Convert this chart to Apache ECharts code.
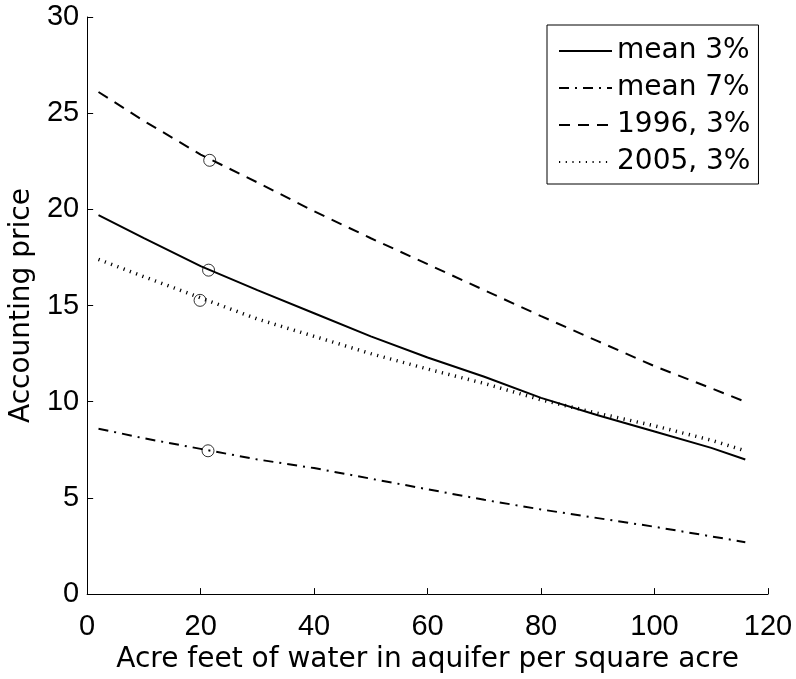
<!DOCTYPE html>
<html>
<head>
<meta charset="utf-8">
<script src="https://cdn.jsdelivr.net/npm/echarts@6/dist/echarts.min.js"></script>
<style>
html,body{margin:0;padding:0;background:#fff;}
#chart{width:796px;height:679px;}
</style>
</head>
<body>
<div id="chart"></div>
<script>
// ---- data ----
const xValues   = [2, 10, 20, 30, 40, 50, 60, 70, 80, 90, 100, 110, 116];
const mean3     = [19.7, 18.5, 17.05, 15.8, 14.6, 13.4, 12.3, 11.3, 10.2, 9.3, 8.45, 7.6, 7.0];
const mean7     = [8.6, 8.1, 7.55, 7.0, 6.55, 6.0, 5.45, 4.9, 4.4, 3.95, 3.5, 3.0, 2.7];
const y1996     = [26.1, 24.6, 22.85, 21.4, 19.9, 18.5, 17.15, 15.8, 14.45, 13.15, 11.85, 10.7, 10.0];
const y2005     = [17.4, 16.5, 15.4, 14.3, 13.4, 12.5, 11.7, 10.95, 10.1, 9.4, 8.75, 8.0, 7.45];
const markerX   = [21.6, 21.4, 19.9, 21.3];
const markerY   = [22.55, 16.84, 15.27, 7.45];
const seriesNames = ['mean 3%', 'mean 7%', '1996, 3%', '2005, 3%'];
const xTicks = {min: 0, max: 120, interval: 20};
const yTicks = {min: 0, max: 30, interval: 5};
const xTitle = 'Acre feet of water in aquifer per square acre';
const yTitle = 'Accounting price';

const FONT = 'DejaVu Sans';
const TICKFONT = 'Liberation Sans';
const pair = (xs, ys) => xs.map((x, i) => [x, ys[i]]);

function lineSeries(name, ys, type, width) {
  return {
    name: name,
    type: 'line',
    data: pair(xValues, ys),
    symbol: 'none',
    showSymbol: false,
    smooth: false,
    lineStyle: {color: '#000', width: width, type: type, cap: 'butt'},
    itemStyle: {color: '#000'},
    z: 2
  };
}

const chart = echarts.init(document.getElementById('chart'), null, {renderer: 'canvas'});
chart.setOption({
  animation: false,
  backgroundColor: '#fff',
  grid: {left: 84, right: 28, top: 17, bottom: 75, containLabel: false},
  xAxis: {
    type: 'value', min: xTicks.min, max: xTicks.max, interval: xTicks.interval,
    name: xTitle, nameLocation: 'middle', nameGap: 46,
    nameTextStyle: {fontFamily: FONT, fontSize: 28, color: '#000'},
    axisLine: {show: true, onZero: false, lineStyle: {color: '#000', width: 1}},
    axisTick: {show: true, inside: true, length: 6, lineStyle: {color: '#000'}},
    axisLabel: {fontFamily: TICKFONT, fontSize: 29, color: '#000', margin: 18},
    splitLine: {show: false}
  },
  yAxis: {
    type: 'value', min: yTicks.min, max: yTicks.max, interval: yTicks.interval,
    name: yTitle, nameLocation: 'middle', nameGap: 50,
    nameTextStyle: {fontFamily: FONT, fontSize: 28, color: '#000'},
    axisLine: {show: true, onZero: false, lineStyle: {color: '#000', width: 1}},
    axisTick: {show: true, inside: true, length: 6, lineStyle: {color: '#000'}},
    axisLabel: {fontFamily: TICKFONT, fontSize: 29, color: '#000', margin: 8},
    splitLine: {show: false}
  },
  legend: {
    data: seriesNames,
    orient: 'vertical',
    left: 547, top: 25,
    padding: [12, 8, 8, 11],
    itemWidth: 53, itemHeight: 28, itemGap: 9,
    borderColor: '#000', borderWidth: 1,
    backgroundColor: '#fff',
    itemStyle: {opacity: 0, borderWidth: 0},
    textStyle: {fontFamily: FONT, fontSize: 28, color: '#000'}
  },
  series: [
    lineSeries(seriesNames[0], mean3, 'solid', 2),
    lineSeries(seriesNames[1], mean7, [10, 6, 2, 6], 2),
    lineSeries(seriesNames[2], y1996, [11, 8], 2),
    lineSeries(seriesNames[3], y2005, [1.2, 5.5], 3.5),
    {
      name: 'markers', type: 'scatter',
      data: pair(markerX, markerY),
      symbol: 'circle', symbolSize: 12,
      itemStyle: {color: 'rgba(0,0,0,0)', borderColor: '#000', borderWidth: 1},
      z: 3
    }
  ]
});
</script>
</body>
</html>
